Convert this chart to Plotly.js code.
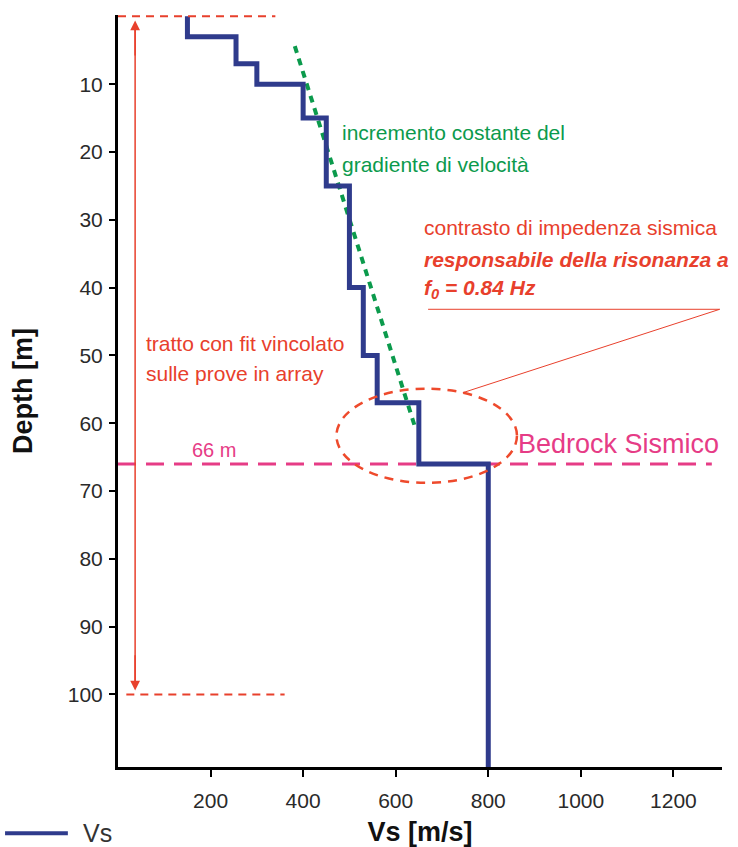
<!DOCTYPE html>
<html>
<head>
<meta charset="utf-8">
<script src="https://cdn.plot.ly/plotly-3.0.1.min.js"></script>
<style>
  html, body { margin: 0; padding: 0; background: #ffffff; }
  #chart { width: 738px; height: 847px; }
</style>
</head>
<body>
<div id="chart"></div>
<script>
// Shear-wave velocity profile: top depth of each layer [m] and its Vs [m/s]
const layerTop = [0, 3, 7, 10, 15, 25, 40, 50, 57, 66];
const layerVs  = [150, 255, 300, 400, 450, 500, 530, 560, 650, 800];
const profileBottom = 110.7;      // half-space continues to the bottom of the plot

// Constant velocity-gradient trend (start / end)
const trendVs    = [382, 641];
const trendDepth = [4.4, 60.4];

// Reference depths
const bedrockDepth = 66;
const arrayFitTop = 0;
const arrayFitBottom = 100;

// Axis ticks
const xTicks = [200, 400, 600, 800, 1000, 1200];
const yTicks = [10, 20, 30, 40, 50, 60, 70, 80, 90, 100];

const blue = '#2f3b8c';
const green = '#0b9a4c';
const red = '#e8402c';
const orange = '#ee4a2c';
const magenta = '#e63c86';
const font = 'Arial, "Liberation Sans", sans-serif';

const profX = layerVs.concat([layerVs[layerVs.length - 1]]);
const profY = layerTop.concat([profileBottom]);

const traces = [
  {
    x: trendVs, y: trendDepth, mode: 'lines', type: 'scatter',
    line: { color: green, width: 4, dash: '7px,6px' },
    hoverinfo: 'skip', showlegend: false
  },
  {
    x: profX, y: profY, mode: 'lines', type: 'scatter', name: 'Vs',
    line: { color: blue, width: 5, shape: 'vh' },
    showlegend: false
  }
];

const shapes = [
  // array-fit limits
  { type: 'line', xref: 'x', yref: 'y', x0: 0, x1: 340, y0: arrayFitTop, y1: arrayFitTop,
    line: { color: red, width: 2, dash: '8px,6px' } },
  { type: 'line', xref: 'x', yref: 'y', x0: 18, x1: 360, y0: arrayFitBottom, y1: arrayFitBottom,
    line: { color: red, width: 2, dash: '8px,6px' } },
  // double arrow spanning the array-fit range (shaft)
  { type: 'line', xref: 'x', yref: 'y', x0: 37, x1: 37, y0: 1.5, y1: 98.5,
    line: { color: red, width: 1.5 } },
  // seismic bedrock
  { type: 'line', xref: 'x', yref: 'y', x0: 0, x1: 1283, y0: bedrockDepth, y1: bedrockDepth,
    line: { color: magenta, width: 3, dash: '18px,10px' }, layer: 'below' },
  // impedance contrast
  { type: 'circle', xref: 'x', yref: 'y', x0: 472, x1: 862, y0: 54.9, y1: 68.8,
    line: { color: orange, width: 2.5, dash: '9px,7px' } },
  // leader from the note to the ellipse
  { type: 'line', xref: 'x', yref: 'y', x0: 670, x1: 1300, y0: 43.2, y1: 43.2,
    line: { color: red, width: 1 } },
  { type: 'line', xref: 'x', yref: 'y', x0: 1300, x1: 745, y0: 43.2, y1: 55.5,
    line: { color: red, width: 1 } },
  // legend sample
  { type: 'line', xref: 'paper', yref: 'paper', x0: -0.187, x1: -0.083, y0: -0.088, y1: -0.088,
    line: { color: blue, width: 4 } }
];

const noteFont = (c, s) => ({ family: font, size: s || 21, color: c });

const annotations = [
  // arrow heads at both ends of the array-fit range
  { x: 37, y: 0.6, ax: 37, ay: 6, xref: 'x', yref: 'y', axref: 'x', ayref: 'y',
    showarrow: true, arrowhead: 2, arrowsize: 1.3, arrowwidth: 1.5, arrowcolor: red, text: '' },
  { x: 37, y: 99.4, ax: 37, ay: 94, xref: 'x', yref: 'y', axref: 'x', ayref: 'y',
    showarrow: true, arrowhead: 2, arrowsize: 1.3, arrowwidth: 1.5, arrowcolor: red, text: '' },

  { x: 480, y: 17.2, xref: 'x', yref: 'y', xanchor: 'left', yanchor: 'middle', showarrow: false,
    text: 'incremento costante del', font: noteFont(green) },
  { x: 480, y: 21.8, xref: 'x', yref: 'y', xanchor: 'left', yanchor: 'middle', showarrow: false,
    text: 'gradiente di velocità', font: noteFont(green) },

  { x: 656, y: 31.2, xref: 'x', yref: 'y', xanchor: 'left', yanchor: 'middle', showarrow: false,
    text: 'contrasto di impedenza sismica', font: noteFont(red) },
  { x: 656, y: 35.8, xref: 'x', yref: 'y', xanchor: 'left', yanchor: 'middle', showarrow: false,
    text: '<b><i>responsabile della risonanza a</i></b>', font: noteFont(red) },
  { x: 656, y: 40.2, xref: 'x', yref: 'y', xanchor: 'left', yanchor: 'middle', showarrow: false,
    text: '<b><i>f<sub>0</sub> = 0.84 Hz</i></b>', font: noteFont(red) },

  { x: 56, y: 48.3, xref: 'x', yref: 'y', xanchor: 'left', yanchor: 'middle', showarrow: false,
    text: 'tratto con fit vincolato', font: noteFont(red) },
  { x: 56, y: 52.7, xref: 'x', yref: 'y', xanchor: 'left', yanchor: 'middle', showarrow: false,
    text: 'sulle prove in array', font: noteFont(red) },

  { x: 208, y: 63.9, xref: 'x', yref: 'y', xanchor: 'center', yanchor: 'middle', showarrow: false,
    text: '66 m', font: noteFont(magenta, 20) },
  { x: 860, y: 63.1, xref: 'x', yref: 'y', xanchor: 'left', yanchor: 'middle', showarrow: false,
    text: 'Bedrock Sismico', font: noteFont(magenta, 27) },

  // legend label
  { x: -0.061, y: -0.088, xref: 'paper', yref: 'paper', xanchor: 'left', yanchor: 'middle',
    showarrow: false, text: 'Vs', font: { family: font, size: 25, color: '#333' } }
];

const layout = {
  width: 738, height: 847,
  margin: { l: 118, r: 16, t: 15, b: 80 },
  paper_bgcolor: '#ffffff', plot_bgcolor: '#ffffff',
  showlegend: false,
  xaxis: {
    range: [0, 1305], tickvals: xTicks, ticktext: xTicks.map(String),
    showgrid: false, zeroline: false,
    showline: true, linecolor: '#000', linewidth: 3, mirror: false,
    ticks: 'outside', ticklen: 7, tickwidth: 2, tickcolor: '#000',
    ticklabelstandoff: 6,
    tickfont: { family: font, size: 21, color: '#2a2a2a' },
    title: { text: '<b>Vs [m/s]</b>', font: { family: font, size: 27, color: '#111' }, standoff: 12 }
  },
  yaxis: {
    range: [profileBottom, -0.2], tickvals: yTicks, ticktext: yTicks.map(String),
    showgrid: false, zeroline: false,
    showline: true, linecolor: '#000', linewidth: 3, mirror: false,
    ticks: 'outside', ticklen: 6, tickwidth: 2, tickcolor: '#000',
    ticklabelstandoff: 2,
    tickfont: { family: font, size: 21, color: '#2a2a2a' },
    title: { text: '<b>Depth [m]</b>', font: { family: font, size: 27, color: '#111' }, standoff: 28 }
  },
  shapes: shapes,
  annotations: annotations
};

Plotly.newPlot('chart', traces, layout, { displayModeBar: false, staticPlot: true });
</script>
</body>
</html>
